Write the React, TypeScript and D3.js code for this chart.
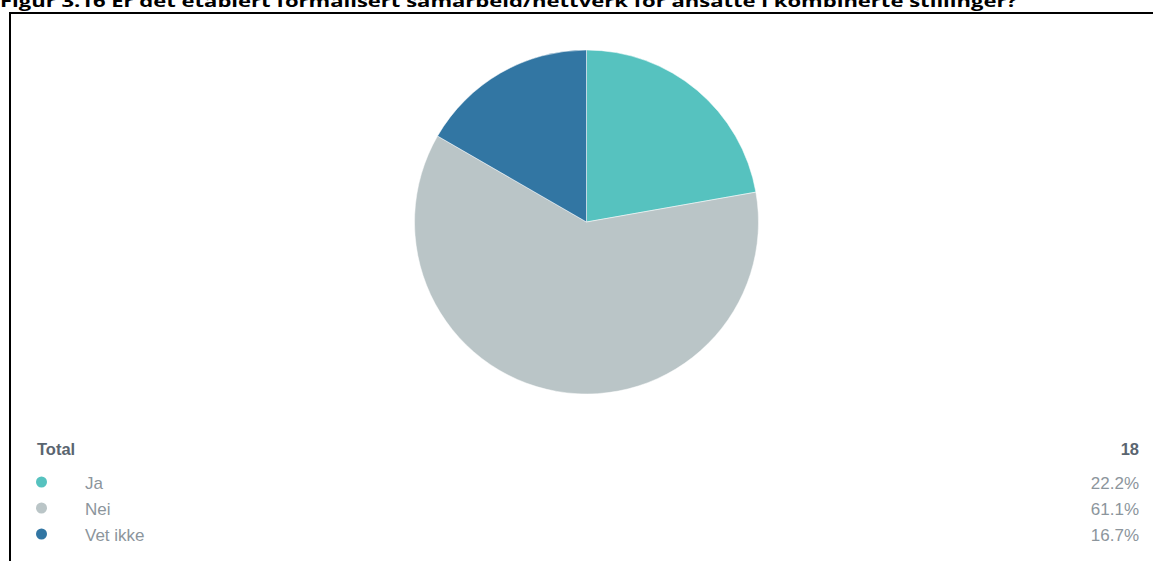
import React from "react";
import * as d3 from "d3";

const title = "Figur 3.16 Er det etablert formalisert samarbeid/nettverk for ansatte i kombinerte stillinger?";
const categories = ["Ja", "Nei", "Vet ikke"];
const counts = [4, 11, 3];
const percentLabels = ["22.2%", "61.1%", "16.7%"];
const colors = ["#56C2BF", "#BAC5C7", "#3276A3"];
const totalLabel = "Total";
const totalValue = "18";

const W = 1153;
const H = 561;

export default function App() {
  const cx = 586.5;
  const cy = 222;
  const r = 172;
  const pie = d3.pie<number>().sort(null).value((d) => d)(counts);
  const arc = d3.arc<d3.PieArcDatum<number>>().innerRadius(0).outerRadius(r);
  const rowY = d3.scalePoint<string>().domain(categories).range([482, 534]);
  const font = "'Liberation Sans', Arial, sans-serif";

  return (
    <div style={{ position: "absolute", left: 0, top: 0, width: W, height: H, background: "#fff" }}>
      <svg width={W} height={H} style={{ display: "block" }}>
        <rect x={0} y={0} width={W} height={H} fill="#fff" />
        <text
          x={0}
          y={7}
          fontFamily="'Open Sans', 'Liberation Sans', sans-serif"
          fontWeight="bold"
          fontSize={16}
          fill="#000"
          textLength={1017}
          lengthAdjust="spacingAndGlyphs"
        >
          {title}
        </text>
        <line x1={10} y1={13} x2={W} y2={13} stroke="#000" strokeWidth={2} />
        <line x1={10} y1={12} x2={10} y2={H} stroke="#000" strokeWidth={2} />
        <g transform={`translate(${cx},${cy})`}>
          {pie.map((d, i) => (
            <path key={categories[i]} d={arc(d) || ""} fill={colors[i]} stroke="#fff" strokeWidth={0.5} />
          ))}
        </g>
        <text x={37} y={455} fontFamily={font} fontWeight="bold" fontSize={16.5} fill="#5a6570">
          {totalLabel}
        </text>
        <text x={1139} y={455} textAnchor="end" fontFamily={font} fontWeight="bold" fontSize={16.5} fill="#5a6570">
          {totalValue}
        </text>
        {categories.map((c, i) => {
          const y = rowY(c) as number;
          return (
            <g key={c}>
              <circle cx={41.5} cy={y} r={5.5} fill={colors[i]} />
              <text x={85} y={y + 7} fontFamily={font} fontSize={17} fill="#8c959c">
                {c}
              </text>
              <text x={1139} y={y + 7} textAnchor="end" fontFamily={font} fontSize={17} fill="#8c959c">
                {percentLabels[i]}
              </text>
            </g>
          );
        })}
      </svg>
    </div>
  );
}
